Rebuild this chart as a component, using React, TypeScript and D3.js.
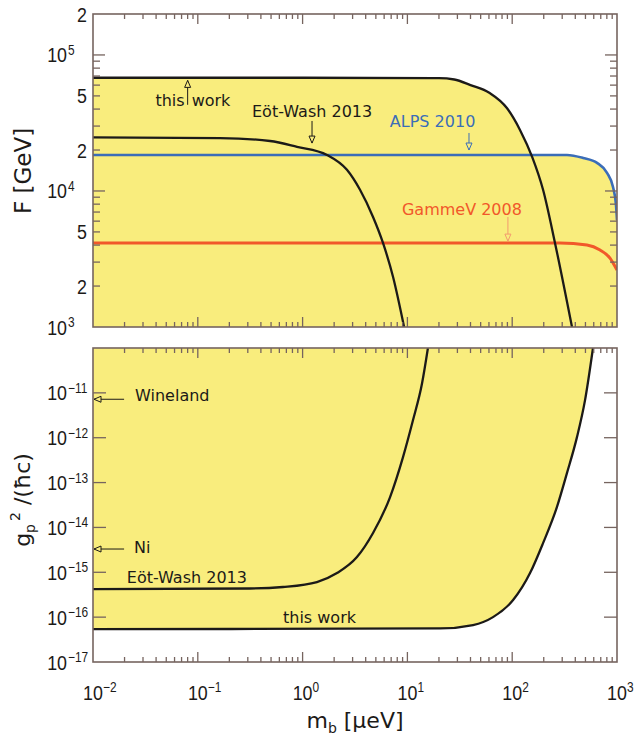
import React from 'react'
import * as d3 from 'd3'

const W = 634
const H = 741
const left = 93
const right = 617
const top1 = 14
const bot1 = 327
const top2 = 348
const bot2 = 662

// shared mass axis  m_b [ueV]
const massDomain = [1e-2, 1e3]
const massLabels = [1e-2, 1e-1, 1e0, 1e1, 1e2, 1e3]

// upper panel: F [GeV]
const fDomain = [1e3, 2e5]
const fPowLabels = [1e3, 1e4, 1e5]
const fDigitLabels = [2e3, 5e3, 2e4, 5e4, 2e5]

const twTopM = [0.01, 1, 20, 28, 40, 61, 89, 119, 155, 197, 256, 372]
const twTopF = [6.8e4, 6.8e4, 6.75e4, 6.6e4, 6.0e4, 5.25e4, 4.07e4, 2.8e4, 1.78e4, 1.02e4, 4.15e3, 1.0e3]

const ewTopM = [0.01, 0.163, 0.489, 0.885, 1.71, 2.65, 3.53, 4.7, 5.85, 7.3, 9.3]
const ewTopF = [2.48e4, 2.45e4, 2.33e4, 2.11e4, 1.84e4, 1.43e4, 1.02e4, 6.44e3, 4.15e3, 2.33e3, 1.0e3]

const alpsM = [0.01, 333, 474, 645, 803, 916, 978, 1000]
const alpsF = [1.84e4, 1.84e4, 1.75e4, 1.61e4, 1.36e4, 1.07e4, 7.9e3, 6.1e3]

const gammevM = [0.01, 286, 517, 689, 857, 1000]
const gammevF = [4.15e3, 4.15e3, 4.01e3, 3.68e3, 3.21e3, 2.62e3]

// lower panel: g_p^2/(hbar c)
const gDomain = [1e-17, 1e-10]
const gLabels = [1e-17, 1e-16, 1e-15, 1e-14, 1e-13, 1e-12, 1e-11]

const ewBotM = [0.01, 0.315, 0.65, 1.37, 2.13, 3.3, 4.7, 6.82, 9.08, 11.3, 13.8, 15.7]
const ewBotG = [4.2e-16, 4.35e-16, 4.7e-16, 6.05e-16, 9.6e-16, 2.18e-15, 7.5e-15, 4.7e-14, 3.7e-13, 2.45e-12, 1.64e-11, 1e-10]

const twBotM = [0.01, 20.5, 42.3, 65.6, 102, 148, 197, 267, 333, 415, 495, 590]
const twBotG = [5.4e-17, 5.6e-17, 6.67e-17, 1.0e-16, 2.4e-16, 9.6e-16, 4.47e-15, 2.83e-14, 1.62e-13, 1.03e-12, 6.8e-12, 1e-10]

// limits marked by arrows only
const winelandG = 7.2e-12
const niG = 3.3e-15

const yellow = '#f9ed7d'
const frame = '#76645f'
const blue = '#3b6db8'
const red = '#f1582a'
const ink = '#1c1a18'
const tickFont = "'Liberation Sans', Arial, sans-serif"
const textFont = "'DejaVu Sans', Verdana, sans-serif"
const narrow = 0.85

const pts = (m: number[], v: number[]) => m.map((d, i) => [d, v[i]] as [number, number])
const isDecade = (v: number) => Math.abs(Math.log10(v) - Math.round(Math.log10(v))) < 1e-6
const expOf = (v: number) => String(Math.round(Math.log10(v))).replace('-', '\u2212')

function head(xt: number, yt: number, dir: string, color: string) {
  const w = 3, l = 7
  let p = ''
  if (dir === 'up') p = `M${xt},${yt}L${xt - w},${yt + l}L${xt + w},${yt + l}Z`
  if (dir === 'down') p = `M${xt},${yt}L${xt - w},${yt - l}L${xt + w},${yt - l}Z`
  if (dir === 'left') p = `M${xt},${yt}L${xt + l},${yt - w}L${xt + l},${yt + w}Z`
  return <path d={p} fill={yellow} stroke={color} strokeWidth={1} />
}

// narrow tick text
function nt(tx: number, ty: number, s: string, size: number, anchor: string, key?: string) {
  return (
    <g key={key} transform={`translate(${tx},${ty}) scale(${narrow},1)`}>
      <text textAnchor={anchor} fontSize={size}>{s}</text>
    </g>
  )
}

export default function App() {
  const x = d3.scaleLog().domain(massDomain).range([left, right])
  const yF = d3.scaleLog().domain(fDomain).range([bot1, top1])
  const yG = d3.scaleLog().domain(gDomain).range([bot2, top2])

  const lineF = d3.line<[number, number]>().x(d => x(d[0])).y(d => yF(d[1])).curve(d3.curveMonotoneX)
  const areaF = d3.area<[number, number]>().x(d => x(d[0])).y0(bot1).y1(d => yF(d[1])).curve(d3.curveMonotoneX)
  const lineG = d3.line<[number, number]>().x(d => x(d[0])).y(d => yG(d[1])).curve(d3.curveMonotoneX)
  const areaG = d3.area<[number, number]>().x(d => x(d[0])).y0(top2).y1(d => yG(d[1])).curve(d3.curveMonotoneX)

  const xt = x.ticks().filter(v => v > massDomain[0] && v < massDomain[1])
  const xTicks = (y0: number, y1: number) => xt.map((v, i) => {
    const len = isDecade(v) ? 10 : 5
    return (
      <g key={i}>
        <line x1={x(v)} x2={x(v)} y1={y0} y2={y0 + len} />
        <line x1={x(v)} x2={x(v)} y1={y1} y2={y1 - len} />
      </g>
    )
  })

  const fTicks = yF.ticks().filter(v => v > fDomain[0] && v < fDomain[1]).map((v, i) => {
    const len = isDecade(v) ? 12 : 7
    return (
      <g key={i}>
        <line x1={left} x2={left + len} y1={yF(v)} y2={yF(v)} />
        <line x1={right} x2={right - len} y1={yF(v)} y2={yF(v)} />
      </g>
    )
  })

  const gTicks = yG.ticks().filter(v => isDecade(v) && v > gDomain[0] && v < gDomain[1]).map((v, i) => (
    <g key={i}>
      <line x1={left} x2={left + 13} y1={yG(v)} y2={yG(v)} />
      <line x1={right} x2={right - 13} y1={yG(v)} y2={yG(v)} />
    </g>
  ))

  const yPow = (v: number, yy: number, i: number) => (
    <g key={'p' + i}>
      {nt(left - 26, yy + 7.5, '10', 21, 'end')}
      {nt(left - 25, yy, expOf(v), 14, 'start')}
    </g>
  )

  const ax = x(0.08)

  return (
    <svg width={W} height={H} style={{ position: 'absolute', left: 0, top: 0, background: '#fff' }}
      fontFamily={tickFont} fill={ink}>
      <defs>
        <clipPath id="c1"><rect x={left} y={top1} width={right - left} height={bot1 - top1} /></clipPath>
        <clipPath id="c2"><rect x={left} y={top2} width={right - left} height={bot2 - top2} /></clipPath>
      </defs>

      {/* upper panel */}
      <g clipPath="url(#c1)">
        <path d={areaF(pts(twTopM, twTopF)) || ''} fill={yellow} />
        <path d={areaF(pts(alpsM, alpsF)) || ''} fill={yellow} />
        <path d={areaF(pts(gammevM, gammevF)) || ''} fill={yellow} />
        <path d={lineF(pts(alpsM, alpsF)) || ''} fill="none" stroke={blue} strokeWidth={2.6} />
        <path d={lineF(pts(gammevM, gammevF)) || ''} fill="none" stroke={red} strokeWidth={3} />
        <path d={lineF(pts(twTopM, twTopF)) || ''} fill="none" stroke={ink} strokeWidth={2.3} />
        <path d={lineF(pts(ewTopM, ewTopF)) || ''} fill="none" stroke={ink} strokeWidth={2.3} />
      </g>
      <g stroke={frame} strokeWidth={1.3}>
        {xTicks(top1, bot1)}
        {fTicks}
      </g>
      <rect x={left} y={top1} width={right - left} height={bot1 - top1} fill="none" stroke={frame} strokeWidth={1.6} />

      {fPowLabels.map((v, i) => yPow(v, yF(v), i))}
      {fDigitLabels.map((v, i) => nt(left - 6, yF(v) + 7.5, String(v).charAt(0), 21, 'end', 'd' + i))}

      <g fontFamily={textFont} fontSize={16}>
        <text x={ax - 3} y={yF(4.2e4)} textAnchor="end">this</text>
        <text x={ax + 4} y={yF(4.2e4)}>work</text>
        <line x1={ax} x2={ax} y1={yF(4.3e4)} y2={yF(6.5e4)} stroke={ink} strokeWidth={1} />
        {head(ax, yF(6.5e4), 'up', ink)}

        <text x={x(0.329)} y={yF(3.5e4)}>Eöt-Wash 2013</text>
        <line x1={x(1.23)} x2={x(1.23)} y1={yF(3.27e4)} y2={yF(2.25e4)} stroke={ink} strokeWidth={1} />
        {head(x(1.23), yF(2.25e4), 'down', ink)}

        <text x={x(6.8)} y={yF(2.96e4)} fill={blue}>ALPS 2010</text>
        <line x1={x(38.7)} x2={x(38.7)} y1={yF(2.67e4)} y2={yF(2.0e4)} stroke={blue} strokeWidth={1} />
        {head(x(38.7), yF(2.0e4), 'down', blue)}

        <text x={x(8.87)} y={yF(6.67e3)} fill={red}>GammeV 2008</text>
        <line x1={x(91)} x2={x(91)} y1={yF(6.44e3)} y2={yF(4.28e3)} stroke="#f39a6e" strokeWidth={1} />
        {head(x(91), yF(4.28e3), 'down', '#f39a6e')}
      </g>

      <text transform={`translate(31,171) rotate(-90)`} textAnchor="middle" fontFamily={textFont} fontSize={23}>F [GeV]</text>

      {/* lower panel */}
      <g clipPath="url(#c2)">
        <path d={areaG(pts(twBotM, twBotG)) || ''} fill={yellow} />
        <path d={lineG(pts(twBotM, twBotG)) || ''} fill="none" stroke={ink} strokeWidth={2.3} />
        <path d={lineG(pts(ewBotM, ewBotG)) || ''} fill="none" stroke={ink} strokeWidth={2.3} />
      </g>
      <g stroke={frame} strokeWidth={1.3}>
        {xTicks(top2, bot2)}
        {gTicks}
      </g>
      <rect x={left} y={top2} width={right - left} height={bot2 - top2} fill="none" stroke={frame} strokeWidth={1.6} />

      {gLabels.map((v, i) => yPow(v, yG(v), i))}

      <g fontFamily={textFont} fontSize={16}>
        <line x1={x(0.0198)} x2={x(0.01) + 1} y1={yG(winelandG)} y2={yG(winelandG)} stroke={ink} strokeWidth={1} />
        {head(x(0.01) + 1, yG(winelandG), 'left', ink)}
        <text x={x(0.0252)} y={yG(6.5e-12)}>Wineland</text>

        <line x1={x(0.0198)} x2={x(0.01) + 1} y1={yG(niG)} y2={yG(niG)} stroke={ink} strokeWidth={1} />
        {head(x(0.01) + 1, yG(niG), 'left', ink)}
        <text x={x(0.0246)} y={yG(2.7e-15)}>Ni</text>

        <text x={x(0.021)} y={yG(5.75e-16)}>Eöt-Wash 2013</text>
        <text x={x(0.65)} y={yG(7.4e-17)}>this work</text>
      </g>

      <text transform={`translate(30,500) rotate(-90)`} textAnchor="middle" fontFamily={textFont} fontSize={22}>
        <tspan>g</tspan>
        <tspan dy={5} fontSize={14}>p</tspan>
        <tspan dy={-15} dx={3} fontSize={14}>2</tspan>
        <tspan dy={10}> /(ħc)</tspan>
      </text>

      {/* mass axis labels */}
      {massLabels.map((v, i) => (
        <g key={i}>
          {nt(x(v), 700, '10', 21, 'middle')}
          {nt(x(v) + 10, 692, expOf(v), 14, 'start')}
        </g>
      ))}
      <text x={355} y={728} textAnchor="middle" fontFamily={textFont} fontSize={22}>
        <tspan>m</tspan>
        <tspan dy={5} fontSize={14}>b</tspan>
        <tspan dy={-5}> [μeV]</tspan>
      </text>
    </svg>
  )
}
